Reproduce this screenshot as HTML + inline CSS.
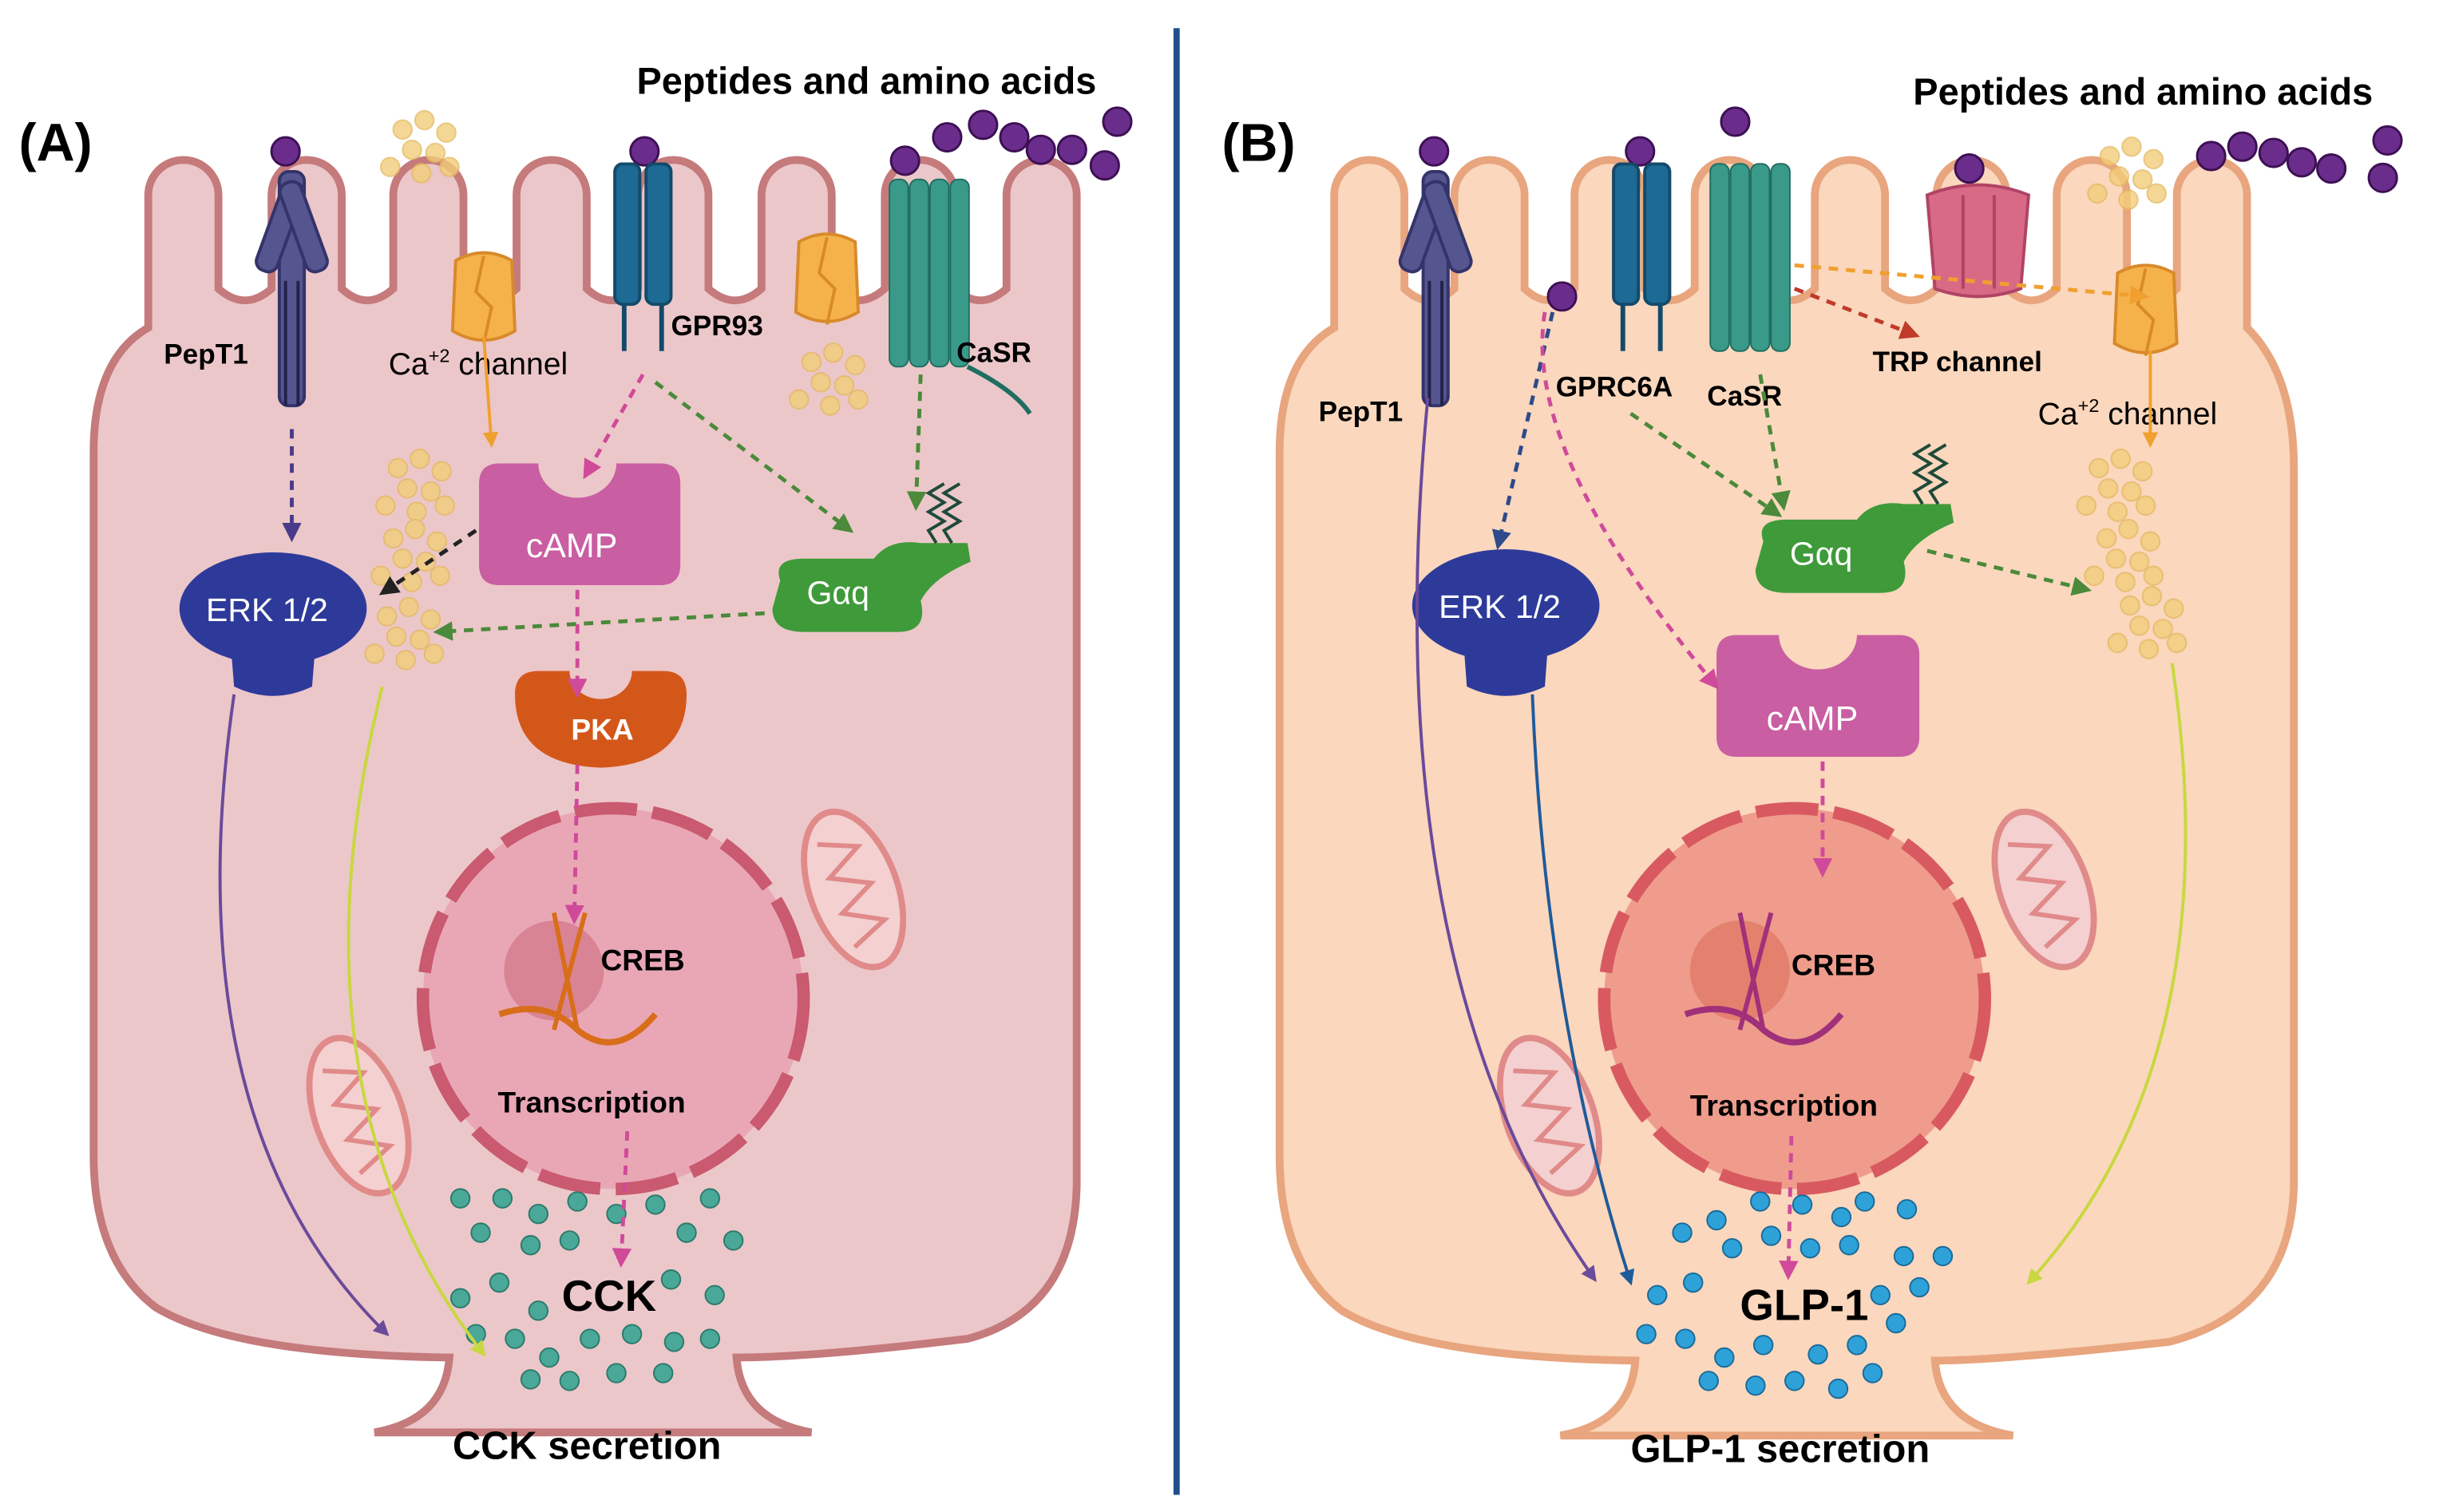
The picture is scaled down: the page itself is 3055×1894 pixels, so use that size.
<!DOCTYPE html>
<html><head><meta charset="utf-8"><style>
html,body{margin:0;padding:0;background:#fff}
svg{display:block}
text{font-family:"Liberation Sans",sans-serif}
.b{font-weight:bold}
</style></head><body>
<svg width="3055" height="1894" viewBox="0 0 1563 969" xmlns="http://www.w3.org/2000/svg">
<defs>
<marker id="ah" viewBox="0 0 10 10" refX="8" refY="5" markerWidth="5" markerHeight="5" orient="auto"><path d="M0,0 L10,5 L0,10 z" fill="context-stroke"/></marker>
<g id="dotsY">
<circle cx="0" cy="0" r="6"/><circle cx="14" cy="-6" r="6"/><circle cx="28" cy="2" r="6"/><circle cx="6" cy="13" r="6"/><circle cx="21" cy="15" r="6"/><circle cx="-8" cy="24" r="6"/><circle cx="12" cy="28" r="6"/><circle cx="30" cy="24" r="6"/>
</g>
<g id="mito"><ellipse cx="0" cy="0" rx="28" ry="52" fill="#f4d0d0" stroke="#e08a8a" stroke-width="4"/><path d="M-12,-35 L12,-25 L-12,-12 L12,0 L-12,12 L12,25 L-12,35" fill="none" stroke="#e08a8a" stroke-width="3"/></g>
<g id="chan"><path d="M-18,-25 Q0,-35 18,-25 L20,20 Q0,32 -20,20 Z" fill="#f6b24a" stroke="#d88a2a" stroke-width="2"/><path d="M0,-28 L-5,-5 L5,5 L0,28" stroke="#d88a2a" stroke-width="2" fill="none"/></g>
<g id="rec7"><rect x="-24" y="-60" width="12" height="120" rx="5" fill="#3a9a8a" stroke="#1f6e60"/><rect x="-11" y="-60" width="12" height="120" rx="5" fill="#3a9a8a" stroke="#1f6e60"/><rect x="2" y="-60" width="12" height="120" rx="5" fill="#3a9a8a" stroke="#1f6e60"/><rect x="15" y="-60" width="12" height="120" rx="5" fill="#3a9a8a" stroke="#1f6e60"/></g>
<g id="gpr"><rect x="-18" y="-55" width="16" height="90" rx="5" fill="#1d6a94" stroke="#134a6a" stroke-width="2"/><rect x="2" y="-55" width="16" height="90" rx="5" fill="#1d6a94" stroke="#134a6a" stroke-width="2"/><path d="M-12,35 L-12,65 M12,35 L12,65" stroke="#134a6a" stroke-width="3"/></g>
<g id="pept"><rect x="-8" y="-70" width="16" height="150" rx="6" fill="#55558f" stroke="#34346a" stroke-width="2"/><rect x="-26" y="-60" width="14" height="60" rx="6" fill="#55558f" stroke="#34346a" stroke-width="2" transform="rotate(20)"/><rect x="12" y="-60" width="14" height="60" rx="6" fill="#55558f" stroke="#34346a" stroke-width="2" transform="rotate(-20)"/><path d="M-4,0 L-4,80 M4,0 L4,80" stroke="#22224a" stroke-width="2"/></g>
</defs>
<rect width="1563" height="969" fill="#fff"/>
<!-- Cell A -->
<path d="M240,918 Q285,910 288,870 Q150,868 100,838 Q60,808 60,740 L60,290 Q60,230 95,210 L95,125 A22.5,22.5 0 0 1 140,125 L140,185 Q157,200 174,185 L174,125 A22.5,22.5 0 0 1 219,125 L219,185 Q235,200 252,185 L252,125 A22.5,22.5 0 0 1 297,125 L297,185 Q314,200 331,185 L331,125 A22.5,22.5 0 0 1 376,125 L376,185 Q392,200 409,185 L409,125 A22.5,22.5 0 0 1 454,125 L454,185 Q471,200 488,185 L488,125 A22.5,22.5 0 0 1 533,125 L533,185 Q550,200 567,185 L567,125 A22.5,22.5 0 0 1 612,125 L612,185 Q628,200 645,185 L645,125 A22.5,22.5 0 0 1 690,125 L690,760 Q688,840 620,858 Q520,870 472,870 Q475,910 520,918 Z" fill="#ecc7c9" stroke="#c57a7c" stroke-width="5"/>
<!-- Cell B -->
<path d="M1000,920 Q1045,912 1048,872 Q910,870 860,840 Q820,810 820,740 L820,290 Q820,230 855,210 L855,125 A22.5,22.5 0 0 1 900,125 L900,185 Q916,200 932,185 L932,125 A22.5,22.5 0 0 1 977,125 L977,185 Q993,200 1009,185 L1009,125 A22.5,22.5 0 0 1 1054,125 L1054,185 Q1070,200 1086,185 L1086,125 A22.5,22.5 0 0 1 1131,125 L1131,185 Q1147,200 1163,185 L1163,125 A22.5,22.5 0 0 1 1208,125 L1208,185 Q1225,200 1241,185 L1241,125 A22.5,22.5 0 0 1 1286,125 L1286,185 Q1302,200 1318,185 L1318,125 A22.5,22.5 0 0 1 1363,125 L1363,185 Q1379,200 1395,185 L1395,125 A22.5,22.5 0 0 1 1440,125 L1440,210 Q1470,240 1470,300 L1470,760 Q1468,840 1390,860 Q1280,872 1240,872 Q1243,912 1290,920 Z" fill="#fad7bd" stroke="#e8a57e" stroke-width="5"/>
<line x1="754" y1="18" x2="754" y2="958" stroke="#1f4e8c" stroke-width="4"/>
<!-- Titles -->
<text x="12" y="103" font-size="34" class="b">(A)</text>
<text x="408" y="60" font-size="24" class="b">Peptides and amino acids</text>
<text x="783" y="103" font-size="34" class="b">(B)</text>
<text x="1226" y="67" font-size="24" class="b">Peptides and amino acids</text>
<!-- purple balls -->
<g fill="#6b2d8c" stroke="#3d1054" stroke-width="1.5">
<circle cx="183" cy="97" r="9"/><circle cx="413" cy="97" r="9"/><circle cx="580" cy="103" r="9"/><circle cx="607" cy="88" r="9"/><circle cx="630" cy="80" r="9"/><circle cx="650" cy="88" r="9"/><circle cx="667" cy="96" r="9"/><circle cx="687" cy="96" r="9"/><circle cx="716" cy="78" r="9"/><circle cx="708" cy="106" r="9"/>
<circle cx="919" cy="97" r="9"/><circle cx="1051" cy="97" r="9"/><circle cx="1112" cy="78" r="9"/><circle cx="1262" cy="108" r="9"/><circle cx="1001" cy="190" r="9"/><circle cx="1417" cy="100" r="9"/><circle cx="1437" cy="94" r="9"/><circle cx="1457" cy="98" r="9"/><circle cx="1475" cy="104" r="9"/><circle cx="1494" cy="108" r="9"/><circle cx="1530" cy="90" r="9"/><circle cx="1527" cy="114" r="9"/>
</g>
<!-- yellow dots -->
<g fill="#f2cd7a" stroke="#e4b860" opacity="0.8">
<use href="#dotsY" x="258" y="83"/><use href="#dotsY" x="520" y="232"/><use href="#dotsY" x="255" y="300"/><use href="#dotsY" x="252" y="345"/><use href="#dotsY" x="248" y="395"/>
<use href="#dotsY" x="1352" y="100"/><use href="#dotsY" x="1345" y="300"/><use href="#dotsY" x="1350" y="345"/><use href="#dotsY" x="1365" y="388"/>
</g>
<!-- receptors A -->
<use href="#pept" x="187" y="180"/>
<text x="105" y="233" font-size="18" class="b">PepT1</text>
<use href="#chan" x="310" y="192"/>
<text x="249" y="240" font-size="20">Ca<tspan font-size="12" dy="-8">+2</tspan><tspan dy="8"> channel</tspan></text>
<use href="#gpr" x="412" y="160"/>
<text x="430" y="215" font-size="18" class="b">GPR93</text>
<use href="#chan" x="530" y="180"/>
<use href="#rec7" x="594" y="175"/>
<path d="M620,235 Q650,250 660,265" stroke="#1f6e60" stroke-width="3" fill="none"/>
<text x="613" y="232" font-size="18" class="b">CaSR</text>
<!-- receptors B -->
<use href="#pept" x="920" y="180"/>
<text x="845" y="270" font-size="18" class="b">PepT1</text>
<use href="#gpr" x="1052" y="160"/>
<text x="997" y="254" font-size="18" class="b">GPRC6A</text>
<use href="#rec7" x="1120" y="165"/>
<text x="1094" y="260" font-size="18" class="b">CaSR</text>
<path d="M1235,125 Q1268,112 1300,125 L1295,185 Q1268,195 1240,185 Z" fill="#d96a86" stroke="#b04466" stroke-width="2"/>
<path d="M1258,125 L1258,185 M1278,125 L1278,185" stroke="#b04466" stroke-width="2"/>
<text x="1200" y="238" font-size="18" class="b">TRP channel</text>
<use href="#chan" x="1375" y="200"/>
<text x="1306" y="272" font-size="20">Ca<tspan font-size="12" dy="-8">+2</tspan><tspan dy="8"> channel</tspan></text>
<!-- A intracellular -->
<path d="M307,310 Q307,297 320,297 L345,297 A25,22 0 0 0 395,297 L423,297 Q436,297 436,310 L436,362 Q436,375 423,375 L320,375 Q307,375 307,362 Z" fill="#c95ea2"/>
<text x="337" y="357" font-size="22" fill="#fff">cAMP</text>
<ellipse cx="175" cy="390" rx="60" ry="36" fill="#2e3a9a"/>
<path d="M148,415 L150,440 Q175,452 200,440 L202,415 Z" fill="#2e3a9a"/>
<text x="132" y="398" font-size="21" fill="#fff">ERK 1/2</text>
<path d="M500,372 Q495,358 515,358 L560,358 Q570,345 590,348 L620,348 L622,360 Q598,370 590,385 Q595,405 575,405 L515,405 Q495,405 495,390 Z" fill="#3f9a3a"/>
<path d="M600,348 l-5,-8 l10,-6 l-10,-6 l10,-6 l-10,-6 l10,-6 M610,348 l-5,-8 l10,-6 l-10,-6 l10,-6 l-10,-6 l10,-6" stroke="#1f4a3a" stroke-width="2" fill="none"/>
<text x="517" y="387" font-size="21" fill="#fff">Gαq</text>
<path d="M330,445 Q330,430 345,430 L365,430 A20,18 0 0 0 405,430 L425,430 Q440,430 440,445 Q440,490 385,492 Q330,490 330,445 Z" fill="#d4571a"/>
<text x="366" y="474" font-size="19" class="b" fill="#fff">PKA</text>
<circle cx="393" cy="640" r="122" fill="#e9a7b6" stroke="#c95a70" stroke-width="8" stroke-dasharray="40 10"/>
<circle cx="355" cy="622" r="32" fill="#d98494"/>
<path d="M355,585 L370,660 M375,585 L355,660" stroke="#d86d1a" stroke-width="3"/>
<path d="M320,650 Q350,640 370,660 Q395,680 420,650" stroke="#d86d1a" stroke-width="4" fill="none"/>
<text x="385" y="622" font-size="19" class="b">CREB</text>
<text x="319" y="713" font-size="19" class="b">Transcription</text>
<use href="#mito" x="547" y="570" transform="rotate(-20 547 570)"/>
<use href="#mito" x="230" y="715" transform="rotate(-20 230 715)"/>
<g fill="#4aa898" stroke="#2c7a6c">
<circle cx="295" cy="768" r="6"/><circle cx="322" cy="768" r="6"/><circle cx="345" cy="778" r="6"/><circle cx="370" cy="770" r="6"/><circle cx="395" cy="778" r="6"/><circle cx="420" cy="772" r="6"/><circle cx="455" cy="768" r="6"/><circle cx="308" cy="790" r="6"/><circle cx="340" cy="798" r="6"/><circle cx="365" cy="795" r="6"/><circle cx="440" cy="790" r="6"/><circle cx="470" cy="795" r="6"/><circle cx="295" cy="832" r="6"/><circle cx="320" cy="822" r="6"/><circle cx="345" cy="840" r="6"/><circle cx="430" cy="820" r="6"/><circle cx="458" cy="830" r="6"/><circle cx="305" cy="855" r="6"/><circle cx="330" cy="858" r="6"/><circle cx="352" cy="870" r="6"/><circle cx="378" cy="858" r="6"/><circle cx="405" cy="855" r="6"/><circle cx="432" cy="860" r="6"/><circle cx="455" cy="858" r="6"/><circle cx="365" cy="885" r="6"/><circle cx="395" cy="880" r="6"/><circle cx="425" cy="880" r="6"/><circle cx="340" cy="884" r="6"/>
</g>
<text x="360" y="840" font-size="28" class="b">CCK</text>
<text x="290" y="935" font-size="25" class="b">CCK secretion</text>
<!-- A arrows -->
<g fill="none" stroke-width="2.5" stroke-dasharray="6 5" marker-end="url(#ah)">
<path d="M187,275 L187,345" stroke="#4a3a8a"/>
<path d="M412,240 L375,305" stroke="#d04a9a"/>
<path d="M420,245 L545,340" stroke="#4a8a3a"/>
<path d="M590,240 L587,325" stroke="#4a8a3a"/>
<path d="M305,340 L245,380" stroke="#222"/>
<path d="M490,393 L280,405" stroke="#4a8a3a"/>
<path d="M370,378 L370,445" stroke="#d04a9a"/>
<path d="M370,490 L368,590" stroke="#d04a9a"/>
<path d="M402,725 L398,810" stroke="#d04a9a"/>
</g>
<g fill="none" stroke-width="2" marker-end="url(#ah)">
<path d="M310,215 L315,285" stroke="#f0a030"/>
<path d="M150,445 Q110,720 248,855" stroke="#6a4a9a"/>
<path d="M245,440 Q180,700 310,868" stroke="#c8d840"/>
</g>
<!-- B intracellular -->
<ellipse cx="965" cy="388" rx="60" ry="36" fill="#2e3a9a"/>
<path d="M938,413 L940,440 Q965,452 990,440 L992,413 Z" fill="#2e3a9a"/>
<text x="922" y="396" font-size="21" fill="#fff">ERK 1/2</text>
<path d="M1100,420 Q1100,407 1113,407 L1140,407 A25,22 0 0 0 1190,407 L1217,407 Q1230,407 1230,420 L1230,472 Q1230,485 1217,485 L1113,485 Q1100,485 1100,472 Z" fill="#c95ea2"/>
<text x="1132" y="468" font-size="22" fill="#fff">cAMP</text>
<path d="M1130,347 Q1125,333 1145,333 L1190,333 Q1200,320 1220,323 L1250,323 L1252,335 Q1228,345 1220,360 Q1225,380 1205,380 L1145,380 Q1125,380 1125,365 Z" fill="#3f9a3a"/>
<path d="M1232,323 l-5,-8 l10,-6 l-10,-6 l10,-6 l-10,-6 l10,-6 M1242,323 l-5,-8 l10,-6 l-10,-6 l10,-6 l-10,-6 l10,-6" stroke="#1f4a3a" stroke-width="2" fill="none"/>
<text x="1147" y="362" font-size="21" fill="#fff">Gαq</text>
<circle cx="1150" cy="640" r="122" fill="#ef9c8c" stroke="#d85a60" stroke-width="8" stroke-dasharray="40 10"/>
<circle cx="1115" cy="622" r="32" fill="#e4806e"/>
<path d="M1115,585 L1130,660 M1135,585 L1115,660" stroke="#a0307a" stroke-width="3"/>
<path d="M1080,650 Q1110,640 1130,660 Q1155,680 1180,650" stroke="#a0307a" stroke-width="4" fill="none"/>
<text x="1148" y="625" font-size="19" class="b">CREB</text>
<text x="1083" y="715" font-size="19" class="b">Transcription</text>
<use href="#mito" x="1310" y="570" transform="rotate(-20 1310 570)"/>
<use href="#mito" x="993" y="715" transform="rotate(-20 993 715)"/>
<g fill="#2ea2d8" stroke="#1a6a9a">
<circle cx="1078" cy="790" r="6"/><circle cx="1100" cy="782" r="6"/><circle cx="1128" cy="770" r="6"/><circle cx="1155" cy="772" r="6"/><circle cx="1180" cy="780" r="6"/><circle cx="1195" cy="770" r="6"/><circle cx="1222" cy="775" r="6"/><circle cx="1110" cy="800" r="6"/><circle cx="1135" cy="792" r="6"/><circle cx="1160" cy="800" r="6"/><circle cx="1185" cy="798" r="6"/><circle cx="1220" cy="805" r="6"/><circle cx="1245" cy="805" r="6"/><circle cx="1062" cy="830" r="6"/><circle cx="1085" cy="822" r="6"/><circle cx="1205" cy="830" r="6"/><circle cx="1230" cy="825" r="6"/><circle cx="1215" cy="848" r="6"/><circle cx="1055" cy="855" r="6"/><circle cx="1080" cy="858" r="6"/><circle cx="1105" cy="870" r="6"/><circle cx="1130" cy="862" r="6"/><circle cx="1165" cy="868" r="6"/><circle cx="1190" cy="862" r="6"/><circle cx="1095" cy="885" r="6"/><circle cx="1125" cy="888" r="6"/><circle cx="1150" cy="885" r="6"/><circle cx="1178" cy="890" r="6"/><circle cx="1200" cy="880" r="6"/>
</g>
<text x="1115" y="846" font-size="28" class="b">GLP-1</text>
<text x="1045" y="937" font-size="25" class="b">GLP-1 secretion</text>
<g fill="none" stroke-width="2.5" stroke-dasharray="6 5" marker-end="url(#ah)">
<path d="M995,200 L960,350" stroke="#2e4a8a"/>
<path d="M990,200 Q975,290 1100,440" stroke="#d04a9a"/>
<path d="M1045,265 L1140,330" stroke="#4a8a3a"/>
<path d="M1128,240 L1143,325" stroke="#4a8a3a"/>
<path d="M1150,185 L1228,215" stroke="#c03a2a"/>
<path d="M1150,170 L1375,190" stroke="#f0a030"/>
<path d="M1235,353 L1338,378" stroke="#4a8a3a"/>
<path d="M1168,488 L1168,560" stroke="#d04a9a"/>
<path d="M1148,728 L1146,818" stroke="#d04a9a"/>
</g>
<g fill="none" stroke-width="2" marker-end="url(#ah)">
<path d="M1378,225 L1378,285" stroke="#f0a030"/>
<path d="M915,255 Q880,620 1022,820" stroke="#6a4a9a"/>
<path d="M982,445 Q990,650 1045,822" stroke="#1f5a9a"/>
<path d="M1392,425 Q1430,680 1300,822" stroke="#c8d840"/>
</g>
</svg>
</body></html>
